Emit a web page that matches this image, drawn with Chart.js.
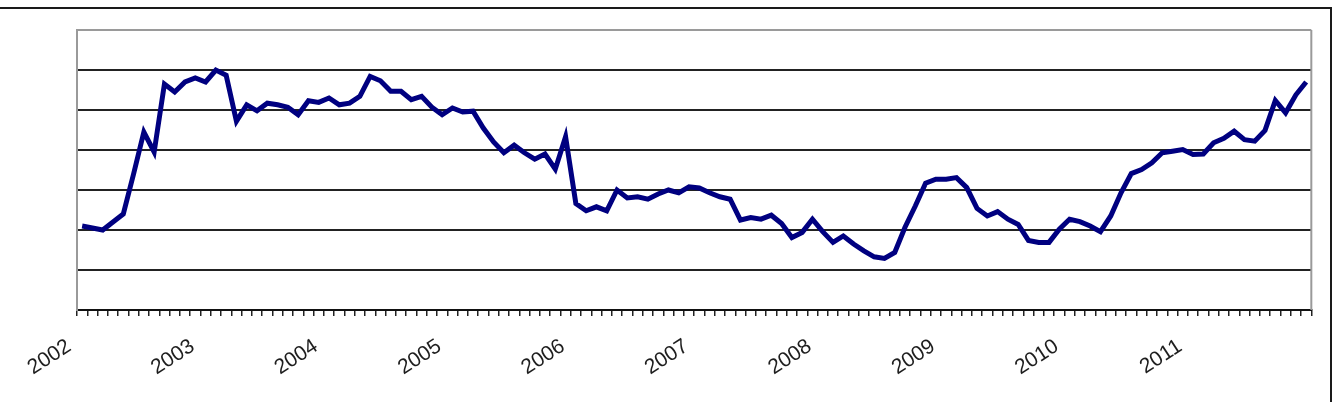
<!DOCTYPE html>
<html>
<head>
<meta charset="utf-8">
<script src="https://cdn.jsdelivr.net/npm/chart.js@4"></script>
<style>
  html, body { margin: 0; padding: 0; background: #fff; }
  #frame {
    position: absolute; left: 0; top: 7px; width: 1330px; height: 400px;
    border-top: 2px solid #1a1a1a; border-right: 2px solid #1a1a1a;
  }
  #chart { position: absolute; left: 0; top: 0; }
</style>
</head>
<body>
<div id="frame"></div>
<canvas id="chart" width="1338" height="402"></canvas>
<script>
// monthly series, Jan 2002 - Dec 2011 (unitless index, one grid step = 1)
const years = ["2002", "2003", "2004", "2005", "2006", "2007", "2008", "2009", "2010", "2011"];
const months = ["01", "02", "03", "04", "05", "06", "07", "08", "09", "10", "11", "12"];

const values2002 = [2.10, 2.05, 2.00, 2.20, 2.40, 3.40, 4.45, 3.95, 5.65, 5.45, 5.70, 5.80];
const values2003 = [5.70, 6.00, 5.87, 4.72, 5.13, 4.98, 5.17, 5.13, 5.07, 4.88, 5.23, 5.19];
const values2004 = [5.30, 5.13, 5.17, 5.34, 5.84, 5.73, 5.47, 5.47, 5.26, 5.34, 5.07, 4.88];
const values2005 = [5.05, 4.95, 4.97, 4.55, 4.20, 3.93, 4.12, 3.93, 3.77, 3.90, 3.52, 4.33];
const values2006 = [2.66, 2.48, 2.58, 2.48, 3.00, 2.80, 2.83, 2.77, 2.90, 3.00, 2.93, 3.08];
const values2007 = [3.05, 2.93, 2.83, 2.77, 2.25, 2.31, 2.27, 2.37, 2.16, 1.81, 1.94, 2.27];
const values2008 = [1.96, 1.69, 1.85, 1.65, 1.48, 1.33, 1.29, 1.44, 2.07, 2.60, 3.17, 3.27];
const values2009 = [3.27, 3.31, 3.06, 2.54, 2.35, 2.46, 2.27, 2.14, 1.74, 1.69, 1.69, 2.02];
const values2010 = [2.27, 2.21, 2.10, 1.96, 2.35, 2.93, 3.41, 3.51, 3.68, 3.93, 3.97, 4.01];
const values2011 = [3.89, 3.90, 4.18, 4.29, 4.47, 4.26, 4.22, 4.49, 5.24, 4.93, 5.38, 5.70];

const values = [].concat(values2002, values2003, values2004, values2005, values2006,
                         values2007, values2008, values2009, values2010, values2011);
const categories = [];
years.forEach(y => months.forEach(m => categories.push(y + "-" + m)));

// grey plot-area frame on the right side (Excel style)
const plotFrame = {
    id: "plotFrame",
    afterDraw(chart) {
        const a = chart.chartArea;
        const ctx = chart.ctx;
        ctx.save();
        ctx.strokeStyle = "#9a9a9a";
        ctx.lineWidth = 2;
        ctx.beginPath();
        ctx.moveTo(a.right, a.top);
        ctx.lineTo(a.right, a.bottom);
        ctx.stroke();
        ctx.restore();
    }
};

new Chart(document.getElementById("chart"), {
    type: "line",
    data: {
        labels: categories,
        datasets: [{
            data: values,
            borderColor: "#000080",
            borderWidth: 5,
            pointRadius: 0,
            tension: 0,
            fill: false
        }]
    },
    options: {
        responsive: false,
        animation: false,
        layout: { padding: { left: 0, right: 25, top: 30, bottom: 0 } },
        plugins: { legend: { display: false }, tooltip: { enabled: false } },
        scales: {
            x: {
                offset: true,
                grid: { offset: true, drawOnChartArea: false, drawTicks: true, tickLength: 6, color: "#222", lineWidth: 1.5 },
                border: { display: true, color: "#111", width: 2 },
                ticks: {
                    autoSkip: false,
                    minRotation: 33,
                    maxRotation: 33,
                    padding: 18,
                    labelOffset: -13,
                    color: "#1e1e1e",
                    font: { family: "Liberation Sans", size: 21 },
                    callback: (v, i) => (i % 12 === 0 ? years[i / 12] : "")
                },
                afterFit: s => { s.height = 92; }
            },
            y: {
                min: 0,
                max: 7,
                ticks: { stepSize: 1, display: false },
                grid: {
                    drawTicks: false,
                    lineWidth: 2,
                    color: c => (c.tick && c.tick.value === 7 ? "#9a9a9a" : "#222")
                },
                border: { display: true, color: "#9a9a9a", width: 2 },
                afterFit: s => { s.width = 77; }
            }
        }
    },
    plugins: [plotFrame]
});
</script>
</body>
</html>
